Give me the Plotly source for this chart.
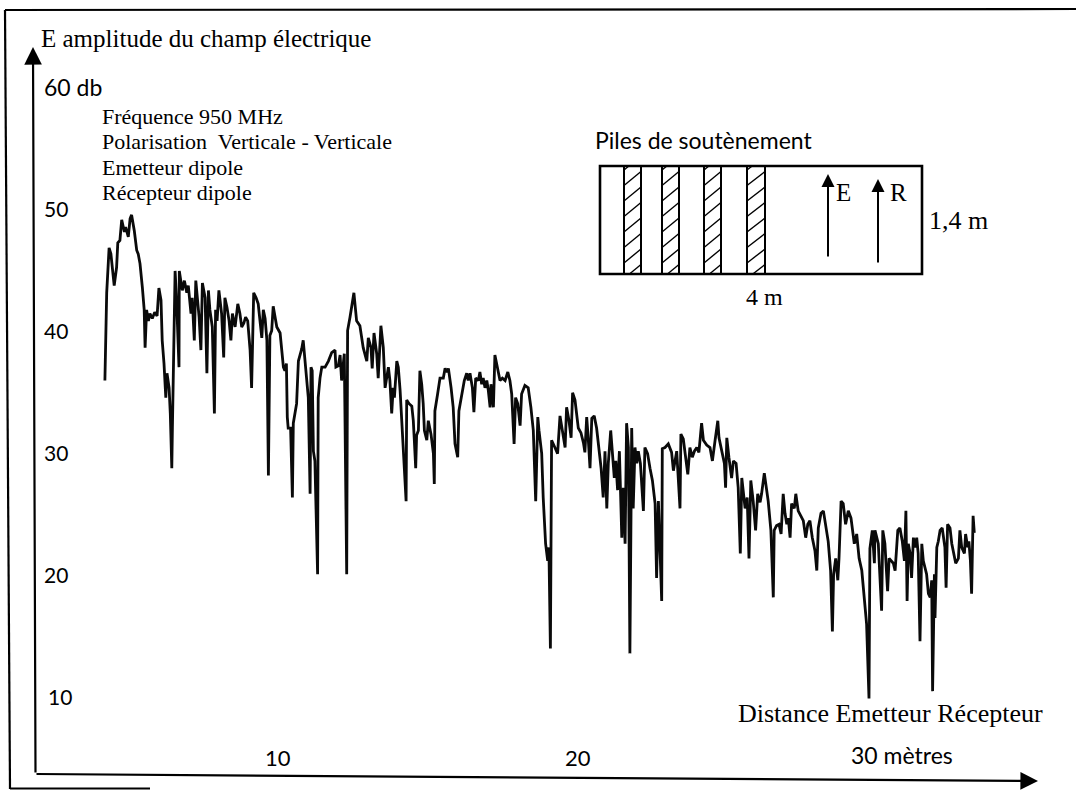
import plotly.graph_objects as go

# ---------------- data ----------------
distance_m = [
    4.23, 4.29, 4.37, 4.43, 4.54, 4.62, 4.66, 4.73, 4.79, 4.88,
    4.92, 5.01, 5.07, 5.12, 5.21, 5.29, 5.34, 5.40, 5.48, 5.54,
    5.57, 5.62, 5.68, 5.73, 5.81, 5.89, 5.97, 6.03, 6.10, 6.14,
    6.20, 6.26, 6.30, 6.37, 6.41, 6.46, 6.48, 6.52, 6.54, 6.57,
    6.62, 6.66, 6.70, 6.71, 6.77, 6.81, 6.88, 6.96, 7.01, 7.10,
    7.14, 7.21, 7.26, 7.32, 7.37, 7.43, 7.48, 7.57, 7.63, 7.68,
    7.73, 7.81, 7.88, 7.92, 7.97, 8.03, 8.12, 8.19, 8.23, 8.30,
    8.37, 8.43, 8.48, 8.57, 8.66, 8.73, 8.79, 8.86, 8.92, 8.99,
    9.07, 9.12, 9.19, 9.27, 9.34, 9.40, 9.46, 9.51, 9.57, 9.63,
    9.68, 9.73, 9.79, 9.84, 9.90, 9.96, 10.07, 10.12, 10.18, 10.23,
    10.28, 10.31, 10.34, 10.42, 10.48, 10.51, 10.62, 10.68, 10.79, 10.84,
    10.90, 10.96, 11.01, 11.07, 11.10, 11.14, 11.18, 11.23, 11.32, 11.34,
    11.40, 11.46, 11.57, 11.68, 11.79, 11.90, 11.93, 12.01, 12.07, 12.12,
    12.18, 12.21, 12.29, 12.32, 12.40, 12.46, 12.53, 12.62, 12.73, 12.84,
    12.96, 13.01, 13.10, 13.14, 13.20, 13.29, 13.34, 13.43, 13.51, 13.57,
    13.68, 13.73, 13.79, 13.84, 13.88, 13.96, 14.01, 14.07, 14.12, 14.18,
    14.27, 14.29, 14.37, 14.46, 14.51, 14.54, 14.59, 14.62, 14.68, 14.73,
    14.79, 14.84, 14.88, 14.96, 15.01, 15.10, 15.18, 15.21, 15.23, 15.32,
    15.40, 15.51, 15.57, 15.64, 15.68, 15.77, 15.84, 15.90, 15.99, 16.03,
    16.12, 16.21, 16.29, 16.34, 16.40, 16.48, 16.53, 16.59, 16.68, 16.73,
    16.79, 16.84, 16.90, 16.96, 17.01, 17.07, 17.10, 17.18, 17.23, 17.32,
    17.40, 17.48, 17.57, 17.66, 17.73, 17.79, 17.87, 17.92, 17.99, 18.07,
    18.12, 18.23, 18.34, 18.43, 18.51, 18.59, 18.66, 18.70, 18.79, 18.84,
    18.92, 18.99, 19.03, 19.08, 19.10, 19.12, 19.23, 19.32, 19.40, 19.48,
    19.57, 19.62, 19.70, 19.77, 19.82, 19.90, 19.96, 20.01, 20.10, 20.18,
    20.23, 20.29, 20.34, 20.40, 20.46, 20.54, 20.62, 20.70, 20.77, 20.84,
    20.90, 20.96, 21.01, 21.09, 21.14, 21.21, 21.26, 21.32, 21.38, 21.46,
    21.51, 21.57, 21.62, 21.68, 21.73, 21.79, 21.84, 21.90, 21.96, 22.01,
    22.08, 22.18, 22.23, 22.32, 22.40, 22.48, 22.57, 22.62, 22.68, 22.79,
    22.81, 22.90, 23.01, 23.12, 23.18, 23.23, 23.29, 23.40, 23.43, 23.51,
    23.57, 23.66, 23.73, 23.81, 23.88, 23.96, 24.03, 24.12, 24.18, 24.29,
    24.40, 24.48, 24.57, 24.66, 24.70, 24.79, 24.88, 24.92, 24.96, 25.03,
    25.12, 25.18, 25.27, 25.34, 25.41, 25.46, 25.51, 25.57, 25.64, 25.70,
    25.76, 25.84, 25.92, 25.99, 26.07, 26.12, 26.21, 26.29, 26.34, 26.43,
    26.51, 26.54, 26.62, 26.70, 26.77, 26.84, 26.90, 26.96, 27.01, 27.07,
    27.12, 27.21, 27.26, 27.34, 27.43, 27.51, 27.59, 27.66, 27.73, 27.81,
    27.90, 27.96, 28.01, 28.10, 28.18, 28.26, 28.34, 28.42, 28.48, 28.52,
    28.59, 28.66, 28.70, 28.77, 28.84, 28.92, 29.01, 29.10, 29.14, 29.21,
    29.29, 29.37, 29.46, 29.54, 29.62, 29.70, 29.73, 29.81, 29.88, 29.90,
    30.01, 30.12, 30.16, 30.23, 30.32, 30.37, 30.43, 30.51, 30.57, 30.66,
    30.73, 30.81, 30.88, 30.93, 30.97, 31.01, 31.07, 31.12, 31.18, 31.23,
    31.29, 31.34, 31.40, 31.46, 31.51, 31.62, 31.68, 31.74, 31.79, 31.82,
    31.88, 31.90, 31.96, 32.01, 32.07, 32.14, 32.23, 32.27, 32.32, 32.40,
    32.46, 32.54, 32.59, 32.68, 32.73, 32.79, 32.88, 32.92, 32.99, 33.03,
    33.08, 33.12, 33.17, 33.21,
]

amplitude_db = [
    35.9, 43.1, 46.8, 46.3, 43.7, 45.2, 47.2, 47.4, 49.1, 48.1,
    48.5, 47.7, 49.2, 49.5, 48.2, 46.6, 46.3, 45.5, 43.5, 41.7,
    38.6, 41.7, 40.8, 41.4, 41.0, 41.5, 41.2, 43.5, 42.5, 39.2,
    37.3, 34.5, 36.5, 35.3, 33.2, 28.7, 32.0, 38.1, 43.1, 44.9,
    42.5, 40.3, 37.0, 44.9, 43.9, 43.3, 44.1, 43.1, 43.7, 41.4,
    42.7, 39.2, 44.1, 42.5, 41.1, 38.4, 43.9, 42.7, 36.5, 43.3,
    41.7, 40.3, 33.2, 41.7, 40.8, 43.3, 41.4, 37.8, 42.7, 41.9,
    40.8, 39.2, 41.4, 40.3, 42.2, 41.4, 40.3, 40.6, 41.1, 40.8,
    38.4, 35.3, 43.1, 42.7, 42.2, 40.8, 39.4, 41.7, 41.0, 39.2,
    28.1, 39.6, 40.0, 42.0, 41.1, 40.3, 39.8, 38.6, 37.0, 36.7,
    37.3, 32.9, 32.0, 32.0, 26.3, 32.4, 34.0, 37.5, 38.5, 39.2,
    37.3, 35.3, 34.5, 26.6, 37.0, 36.7, 30.1, 29.3, 20.0, 34.5,
    36.1, 37.0, 37.0, 37.5, 38.2, 38.4, 37.0, 37.1, 38.0, 35.9,
    37.8, 38.1, 20.0, 40.0, 41.1, 41.9, 43.1, 40.8, 40.4, 38.6,
    37.5, 39.4, 38.6, 36.9, 39.8, 38.1, 36.1, 40.4, 38.6, 35.3,
    37.0, 35.9, 33.2, 35.3, 34.5, 37.5, 37.0, 35.1, 32.9, 30.7,
    26.0, 34.3, 34.0, 33.8, 32.6, 31.2, 28.7, 31.4, 31.8, 36.7,
    35.6, 34.0, 31.8, 31.0, 32.6, 31.5, 29.9, 27.4, 33.4, 34.8,
    36.1, 36.1, 36.9, 36.6, 36.9, 35.3, 33.7, 30.7, 29.6, 33.4,
    34.8, 35.9, 36.5, 35.9, 36.5, 35.3, 33.3, 36.1, 35.9, 36.6,
    35.6, 36.1, 35.3, 35.9, 35.1, 33.7, 35.6, 33.7, 38.0, 36.7,
    35.9, 36.1, 35.9, 36.6, 35.9, 34.8, 30.7, 34.5, 34.0, 32.2,
    34.8, 35.5, 35.3, 33.7, 31.8, 26.0, 32.9, 31.8, 29.9, 26.3,
    22.5, 21.1, 22.2, 13.9, 30.4, 31.0, 30.4, 29.9, 33.0, 31.8,
    30.4, 33.7, 32.6, 31.2, 34.9, 34.3, 32.9, 32.0, 31.6, 30.8,
    30.0, 32.9, 31.2, 28.7, 32.8, 33.0, 32.0, 30.4, 28.7, 26.3,
    30.1, 25.4, 29.1, 31.8, 29.9, 27.9, 29.3, 26.9, 30.1, 23.0,
    27.1, 22.5, 32.4, 30.4, 13.5, 32.0, 25.4, 30.4, 29.1, 30.1,
    29.1, 25.2, 30.4, 29.9, 28.7, 27.7, 25.8, 19.7, 26.0, 17.8,
    30.3, 30.4, 30.7, 30.0, 28.5, 29.3, 30.1, 25.4, 31.5, 31.1,
    30.1, 28.2, 30.4, 29.6, 30.1, 30.4, 30.0, 32.4, 31.0, 30.6,
    30.4, 29.3, 31.0, 32.6, 31.2, 30.1, 29.1, 27.1, 31.2, 29.6,
    27.9, 29.3, 29.1, 27.1, 21.7, 27.9, 26.6, 25.4, 26.3, 21.3,
    27.7, 26.0, 23.6, 26.6, 25.9, 26.6, 28.3, 27.0, 26.0, 23.6,
    18.1, 23.6, 24.0, 24.1, 23.3, 26.6, 25.0, 24.1, 24.6, 23.0,
    25.8, 25.4, 26.6, 25.2, 24.8, 24.4, 23.0, 24.1, 24.4, 23.0,
    21.9, 20.3, 23.8, 25.0, 25.2, 24.1, 22.7, 20.3, 15.3, 20.0,
    21.3, 19.5, 21.3, 26.0, 25.8, 24.1, 25.2, 24.6, 23.8, 22.5,
    23.3, 21.3, 20.3, 17.8, 15.9, 9.8, 22.1, 23.6, 20.9, 23.6,
    22.5, 17.0, 23.6, 22.5, 18.6, 21.3, 21.1, 20.9, 20.3, 23.6,
    23.8, 22.7, 21.1, 25.2, 17.8, 22.5, 21.7, 19.7, 23.0, 22.2,
    23.0, 21.7, 14.5, 22.5, 21.1, 20.0, 18.4, 18.1, 19.5, 10.4,
    20.0, 16.4, 22.2, 22.7, 23.6, 23.8, 22.2, 18.9, 24.1, 23.8,
    22.5, 21.3, 20.9, 21.3, 23.6, 22.2, 21.7, 23.3, 22.2, 22.7,
    21.1, 18.4, 24.8, 23.4,
]

y_tick_values = [60, 50, 40, 30, 20, 10]
y_tick_labels = ["60 db", "50", "40", "30", "20", "10"]
x_tick_values = [10, 20]
x_tick_labels = ["10", "20"]

info_lines = [
    "Fréquence 950 MHz",
    "Polarisation  Verticale - Verticale",
    "Emetteur dipole",
    "Récepteur dipole",
]

# ---------------- figure ----------------
W, H = 1076, 790
SERIF = "Liberation Serif, Times New Roman, serif"
SANS = "Lato, Open Sans, sans-serif"


def P(px):
    return px / W


def Q(py):
    return 1 - py / H


fig = go.Figure()
fig.add_trace(go.Scatter(
    x=distance_m, y=amplitude_db, mode="lines",
    line=dict(color="#0a0a0a", width=2.8),
    hoverinfo="x+y", showlegend=False,
))

shapes = []
annotations = []

# outer frame (scanned page border)
frame = dict(type="line", xref="paper", yref="paper",
             line=dict(color="black", width=2.2))
shapes.append(dict(frame, x0=P(5), y0=Q(10), x1=P(1076), y1=Q(9)))
shapes.append(dict(frame, x0=P(5), y0=Q(10), x1=P(10), y1=Q(789)))
shapes.append(dict(frame, x0=P(10), y0=Q(788.5), x1=P(150), y1=Q(788.5)))

# axes with arrow heads
annotations.append(dict(
    xref="paper", yref="paper", x=P(33), y=Q(47), ax=2.5, ay=727,
    showarrow=True, arrowhead=2, arrowsize=1.6, arrowwidth=2.2,
    arrowcolor="black", text=""))
annotations.append(dict(
    xref="paper", yref="paper", x=P(1038), y=Q(781), ax=-1003, ay=-7,
    showarrow=True, arrowhead=2, arrowsize=1.6, arrowwidth=2.2,
    arrowcolor="black", text=""))

# axis title
annotations.append(dict(
    xref="paper", yref="paper", x=P(39), y=Q(38), xanchor="left",
    yanchor="middle", showarrow=False, text="E amplitude du champ électrique",
    font=dict(family=SERIF, size=25, color="black")))

# y tick labels
for v, t in zip(y_tick_values, y_tick_labels):
    annotations.append(dict(
        xref="paper", yref="y", x=P(42 if v != 10 else 46), y=v,
        xanchor="left", yanchor="middle", showarrow=False, text=t,
        font=dict(family=SANS, size=(23 if v == 60 else 21), color="black")))

# x tick labels
for v, t in zip(x_tick_values, x_tick_labels):
    annotations.append(dict(
        xref="x", yref="paper", x=v, y=Q(757), xanchor="center",
        yanchor="middle", showarrow=False, text=t,
        font=dict(family=SANS, size=22, color="black")))
annotations.append(dict(
    xref="paper", yref="paper", x=P(849), y=Q(755), xanchor="left",
    yanchor="middle", showarrow=False, text="30 mètres",
    font=dict(family=SANS, size=23, color="black")))
annotations.append(dict(
    xref="paper", yref="paper", x=P(736), y=Q(713), xanchor="left",
    yanchor="middle", showarrow=False, text="Distance Emetteur Récepteur",
    font=dict(family=SERIF, size=26, color="black")))

# measurement conditions
for i, line in enumerate(info_lines):
    annotations.append(dict(
        xref="paper", yref="paper", x=P(100), y=Q(116.5 + i * 25.3),
        xanchor="left", yanchor="middle", showarrow=False, text=line,
        font=dict(family=SERIF, size=22, color="black")))

# ---------------- inset: tunnel cross-section ----------------
box_l, box_t, box_r, box_b = 600, 166, 922, 274
shapes.append(dict(type="rect", xref="paper", yref="paper",
                   x0=P(box_l), y0=Q(box_b), x1=P(box_r), y1=Q(box_t),
                   line=dict(color="black", width=2.6)))
piles = [(624, 641), (662, 679), (704, 721), (747, 765)]
for (a, b) in piles:
    shapes.append(dict(type="rect", xref="paper", yref="paper",
                       x0=P(a), y0=Q(box_b), x1=P(b), y1=Q(box_t),
                       line=dict(color="black", width=2)))
    rise = 14.0
    yb = box_t + 4
    while yb < box_b + rise:
        xa, ya, xb_, yb_ = a, yb, b, yb - rise
        if ya > box_b:
            t = (ya - box_b) / rise
            xa = a + t * (b - a)
            ya = box_b
        if yb_ < box_t:
            t = (box_t - yb_) / rise
            xb_ = b - t * (b - a)
            yb_ = box_t
        if xb_ > xa:
            shapes.append(dict(type="line", xref="paper", yref="paper",
                               x0=P(xa), y0=Q(ya), x1=P(xb_), y1=Q(yb_),
                               line=dict(color="black", width=1.4)))
        yb += 15.5

# E and R antennas
for xpx, tip, tail, lab, lx in [(828, 174, 258, "E", 843), (878, 179, 264, "R", 898)]:
    annotations.append(dict(
        xref="paper", yref="paper", x=P(xpx), y=Q(tip), ax=0, ay=tail - tip,
        showarrow=True, arrowhead=2, arrowsize=1.3, arrowwidth=2,
        arrowcolor="black", text=""))
    annotations.append(dict(
        xref="paper", yref="paper", x=P(lx), y=Q(193), xanchor="center",
        yanchor="middle", showarrow=False, text=lab,
        font=dict(family=SERIF, size=25, color="black")))

annotations.append(dict(
    xref="paper", yref="paper", x=P(593), y=Q(140), xanchor="left",
    yanchor="middle", showarrow=False, text="Piles de soutènement",
    font=dict(family=SANS, size=23, color="black")))
annotations.append(dict(
    xref="paper", yref="paper", x=P(927), y=Q(221), xanchor="left",
    yanchor="middle", showarrow=False, text="1,4 m",
    font=dict(family=SERIF, size=26, color="black")))
annotations.append(dict(
    xref="paper", yref="paper", x=P(764), y=Q(297), xanchor="center",
    yanchor="middle", showarrow=False, text="4 m",
    font=dict(family=SERIF, size=24, color="black")))

fig.update_layout(
    width=W, height=H,
    margin=dict(l=0, r=0, t=0, b=0),
    paper_bgcolor="white", plot_bgcolor="white",
    xaxis=dict(range=[22 / 30, (W + 22) / 30], visible=False, fixedrange=True),
    yaxis=dict(range=[60 - (H - 87) / 12.18, 60 + 87 / 12.18], visible=False,
               fixedrange=True),
    shapes=shapes, annotations=annotations,
    showlegend=False,
)

fig.write_html(
    "out.html",
    config={"displayModeBar": False},
    post_script="document.body.style.margin='0px';document.body.style.overflow='hidden';",
)
